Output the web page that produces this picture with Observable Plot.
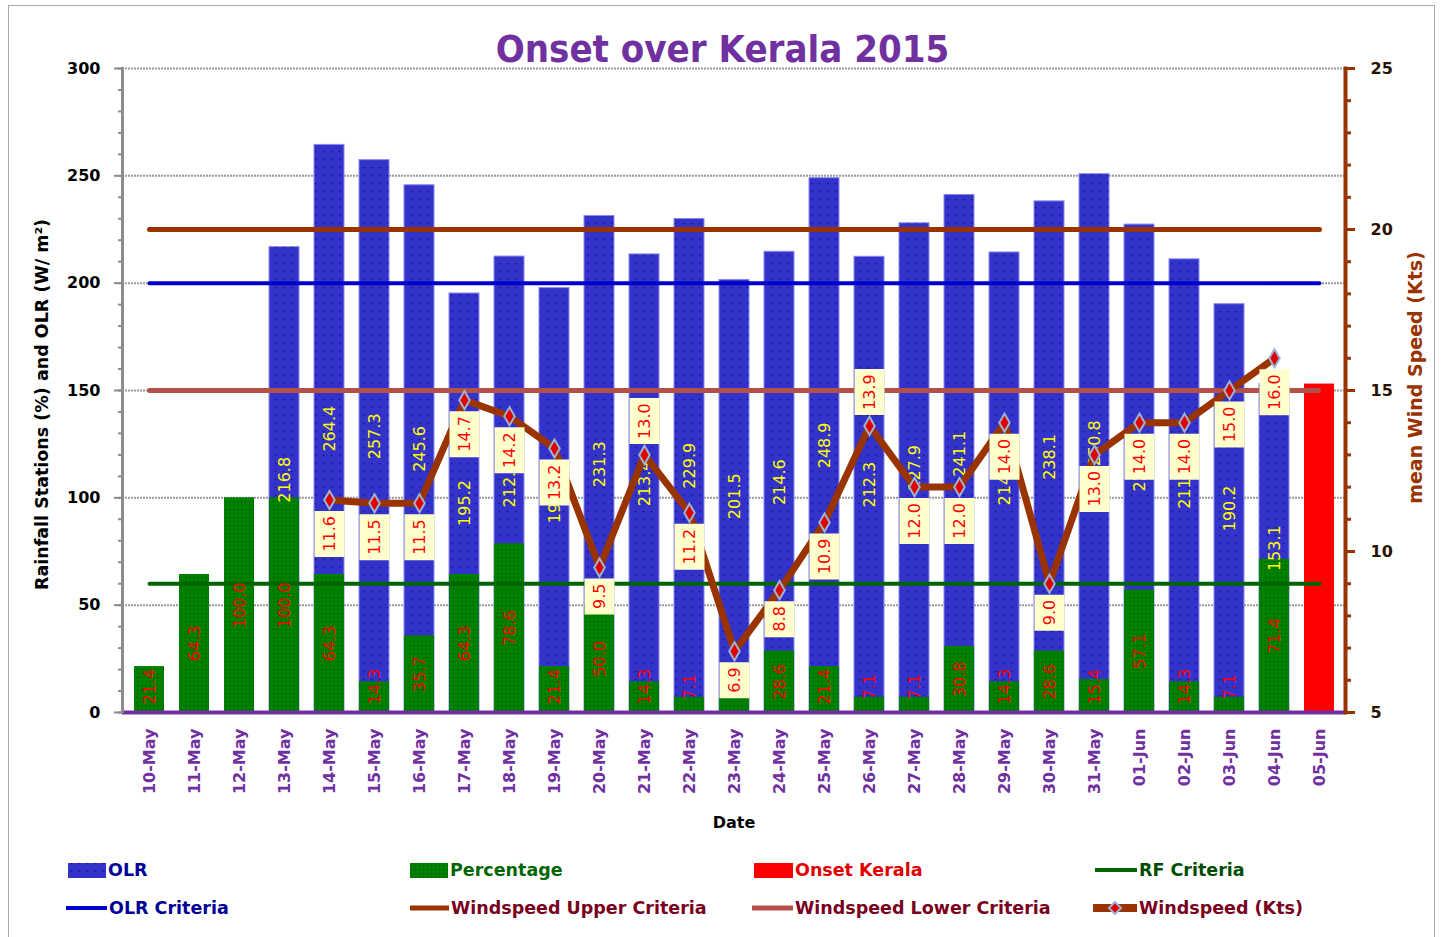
<!DOCTYPE html>
<html><head><meta charset="utf-8">
<script src="https://cdn.jsdelivr.net/npm/d3@7"></script>
<script src="https://cdn.jsdelivr.net/npm/@observablehq/plot@0.6"></script>
<style>
body{margin:0;background:#fff;font-family:"DejaVu Sans",sans-serif;}
#wrap{position:relative;width:1445px;height:937px;overflow:hidden;background:#fff}
#border{position:absolute;left:8px;top:5px;width:1427px;height:960px;border:1px solid #aaa;box-sizing:border-box}
#title{position:absolute;left:0;width:1445px;top:25px;text-align:center;font:bold 38px "DejaVu Sans Condensed","DejaVu Sans",sans-serif;color:#7030A0;line-height:48px}
.layer{position:absolute;left:0;top:60px}
.lg{position:absolute;font:bold 17.5px "DejaVu Sans",sans-serif;white-space:nowrap;line-height:20px;letter-spacing:0px}
.sw{position:absolute}
</style></head>
<body>
<svg width="0" height="0" style="position:absolute">
  <defs>
    <pattern id="dotBlue" width="8" height="8" patternUnits="userSpaceOnUse">
      <rect width="8" height="8" fill="#3333CC"/><rect x="3" y="3" width="1.2" height="1.2" fill="#10104a"/>
    </pattern>
    <pattern id="dotGreen" width="4" height="4" patternUnits="userSpaceOnUse">
      <rect width="4" height="4" fill="#008000"/><rect x="1" y="1" width="1" height="1" fill="#005200"/>
    </pattern>
  </defs>
</svg>
<div id="wrap">
  <div id="border"></div>
  <div id="title">Onset over Kerala 2015</div>
  <div id="l1" class="layer"></div>
  <div id="l2" class="layer"></div>
  <div id="legend"></div>
</div>
<script>
// ---------------- data ----------------
const dates = ["10-May","11-May","12-May","13-May","14-May","15-May","16-May","17-May","18-May","19-May","20-May","21-May","22-May","23-May","24-May","25-May","26-May","27-May","28-May","29-May","30-May","31-May","01-Jun","02-Jun","03-Jun","04-Jun","05-Jun"];
const olr = [null,null,null,216.8,264.4,257.3,245.6,195.2,212.4,197.7,231.3,213.4,229.9,201.5,214.6,248.9,212.3,227.9,241.1,214.3,238.1,250.8,227.3,211.1,190.2,153.1,null];
const percentage = [21.4,64.3,100.0,100.0,64.3,14.3,35.7,64.3,78.6,21.4,50.0,14.3,7.1,7.1,28.6,21.4,7.1,7.1,30.8,14.3,28.6,15.4,57.1,14.3,7.1,71.4,null];
const onsetKerala = [null,null,null,null,null,null,null,null,null,null,null,null,null,null,null,null,null,null,null,null,null,null,null,null,null,null,153];
const windspeed = [null,null,null,null,11.6,11.5,11.5,14.7,14.2,13.2,9.5,13.0,11.2,6.9,8.8,10.9,13.9,12.0,12.0,14.0,9.0,13.0,14.0,14.0,15.0,16.0,null];
const olrCriteria = 200;
const rfCriteria = 60;
const windUpper = 20;
const windLower = 15;
const leftTicks = [0,50,100,150,200,250,300];
const rightTicks = [5,10,15,20,25];

// --------------- tables ---------------
const rows = dates.map((d,i)=>({date:d, olr:olr[i], pct:percentage[i], onset:onsetKerala[i], ws:windspeed[i]}));
const olrRows = rows.filter(r=>r.olr!=null);
const pctRows = rows.filter(r=>r.pct!=null);
const onsetRows = rows.filter(r=>r.onset!=null);
const wsRows = rows.filter(r=>r.ws!=null).map(r=>({...r, label:r.ws.toFixed(1)}));
const aboveSet = new Set(["21-May","26-May"]);

const W = 1445, H = 785;
const common = {
  width: W, height: H, marginTop: 8, marginLeft: 122, marginRight: 100, marginBottom: 133,
  style: {fontFamily: "DejaVu Sans", fontSize: "16px", background: "transparent", overflow: "visible"}
};
const xScale = {type: "band", domain: dates, paddingInner: 0.34, paddingOuter: 0.17};

// ---------------- layer 1 : bars ----------------
const p1 = Plot.plot({
  ...common,
  x: xScale,
  y: {domain: [0, 300]},
  marks: [
    Plot.ruleY(leftTicks.slice(1), {stroke: "#9a9a9a", strokeWidth: 2, strokeDasharray: "2 1"}),
    Plot.barY(olrRows, {x: "date", y: "olr", fill: "url(#dotBlue)", stroke: "#8a8af0", strokeWidth: 1}),
    Plot.barY(pctRows, {x: "date", y: "pct", fill: "url(#dotGreen)"}),
    Plot.barY(onsetRows, {x: "date", y: "onset", fill: "#FF0000"}),
    Plot.lineY(dates.map(d=>({date:d, v:olrCriteria})), {x: "date", y: "v", stroke: "#0000CC", strokeWidth: 4}),
    Plot.lineY(dates.map(d=>({date:d, v:rfCriteria})), {x: "date", y: "v", stroke: "#006400", strokeWidth: 4}),
    Plot.text(olrRows, {x: "date", y: d=>d.olr/2, text: d=>d.olr.toFixed(1), rotate: -90, fill: "#FFFF00", fontSize: 16}),
    Plot.text(pctRows, {x: "date", y: d=>Math.max(d.pct/2, 12), text: d=>d.pct.toFixed(1), rotate: -90, fill: "#FF0000", fontSize: 16}),
    Plot.ruleY([0], {stroke: "#7030A0", strokeWidth: 4}),
    Plot.frame({anchor: "left", stroke: "#8c8c8c", strokeWidth: 3, strokeDasharray: "3 2"}),
    Plot.axisY({ticks: d3.range(0, 301, 10), tickSize: 4, tickFormat: () => "", stroke: "#8c8c8c", strokeWidth: 2, label: null}),
    Plot.axisY({ticks: leftTicks, tickSize: 8, tickPadding: 14, fontWeight: "bold", fontSize: 16, fill: "#000", stroke: "#8c8c8c", strokeWidth: 2, label: null}),
    Plot.axisX({tickRotate: -90, tickSize: 0, tickPadding: 16, fontSize: 16, fontWeight: "bold", fill: "#7030A0", label: null}),
    Plot.text(["Rainfall Stations (%) and OLR (W/ m²)"], {frameAnchor: "left", textAnchor: "middle", rotate: -90, dx: -80, dy: 14, fontWeight: "bold", fontSize: 17.5, fill: "#000"}),
    Plot.text(["Date"], {frameAnchor: "bottom", dy: 115, fontWeight: "bold", fontSize: 16, fill: "#000"})
  ]
});
document.getElementById("l1").appendChild(p1);

// ---------------- layer 2 : windspeed ----------------
function boxSymbol(h, below) {
  return {draw(ctx) {
    const y0 = below ? 11 : -11 - h;
    ctx.moveTo(-15, y0); ctx.lineTo(15, y0); ctx.lineTo(15, y0 + h); ctx.lineTo(-15, y0 + h); ctx.closePath();
  }};
}
const below3 = wsRows.filter(d=>!aboveSet.has(d.date) && d.label.length===3);
const below4 = wsRows.filter(d=>!aboveSet.has(d.date) && d.label.length===4);
const above4 = wsRows.filter(d=>aboveSet.has(d.date));

const p2 = Plot.plot({
  ...common,
  x: {...xScale, axis: null},
  y: {domain: [5, 25]},
  marks: [
    Plot.lineY(dates.map(d=>({date:d, v:windUpper})), {x: "date", y: "v", stroke: "#993300", strokeWidth: 5}),
    Plot.lineY(dates.map(d=>({date:d, v:windLower})), {x: "date", y: "v", stroke: "#B4504A", strokeWidth: 5, strokeDasharray: "2 1"}),
    Plot.line(wsRows, {x: "date", y: "ws", stroke: "#993300", strokeWidth: 7, strokeLinejoin: "round"}),
    Plot.dot(wsRows, {x: "date", y: "ws", symbol: "diamond", r: 5.5, fill: "#E00000", stroke: "#9CB4D4", strokeWidth: 2}),
    Plot.dot(below3, {x: "date", y: "ws", symbol: boxSymbol(36, true), fill: "#FFFFCC"}),
    Plot.dot(below4, {x: "date", y: "ws", symbol: boxSymbol(46, true), fill: "#FFFFCC"}),
    Plot.dot(above4, {x: "date", y: "ws", symbol: boxSymbol(46, false), fill: "#FFFFCC"}),
    Plot.text(wsRows.filter(d=>!aboveSet.has(d.date)), {x: "date", y: "ws", text: "label", rotate: -90, textAnchor: "end", dy: 16, fill: "#FF0000", fontSize: 16}),
    Plot.text(above4, {x: "date", y: "ws", text: "label", rotate: -90, textAnchor: "start", dy: -16, fill: "#FF0000", fontSize: 16}),
    Plot.frame({anchor: "right", stroke: "#993300", strokeWidth: 4}),
    Plot.axisY({anchor: "right", ticks: d3.range(5, 26, 1), tickSize: 5, tickFormat: () => "", stroke: "#993300", strokeWidth: 3, label: null}),
    Plot.axisY({anchor: "right", ticks: rightTicks, tickSize: 9, tickPadding: 16, fontWeight: "bold", fontSize: 16, fill: "#2a1200", stroke: "#993300", strokeWidth: 3, label: null}),
    Plot.text(["mean Wind Speed (Kts)"], {frameAnchor: "right", textAnchor: "middle", rotate: -90, dx: 70, dy: -13, fontWeight: "bold", fontSize: 19, fill: "#993300"})
  ]
});
document.getElementById("l2").appendChild(p2);

// ---------------- legend ----------------
const legendItems = [
  {label: "OLR", kind: "rect", fill: "url(#dotBlue)", x0: 68, x1: 106, y: 870, color: "#000099"},
  {label: "Percentage", kind: "rect", fill: "url(#dotGreen)", x0: 410, x1: 448, y: 870, color: "#006600"},
  {label: "Onset Kerala", kind: "rect", fill: "#FF0000", x0: 754, x1: 793, y: 870, color: "#E00000"},
  {label: "RF Criteria", kind: "line", stroke: "#006400", sw: 4, x0: 1095, x1: 1137, y: 870, color: "#004d00"},
  {label: "OLR Criteria", kind: "line", stroke: "#0000CC", sw: 4, x0: 66, x1: 107, y: 908, color: "#000099"},
  {label: "Windspeed Upper Criteria", kind: "line", stroke: "#993300", sw: 5, x0: 410, x1: 449, y: 908, color: "#7a0020"},
  {label: "Windspeed Lower Criteria", kind: "line", stroke: "#B4504A", sw: 5, x0: 752, x1: 793, y: 908, color: "#7a0020"},
  {label: "Windspeed (Kts)", kind: "wind", stroke: "#993300", sw: 8, x0: 1093, x1: 1137, y: 908, color: "#7a0020"}
];
const lg = document.getElementById("legend");
legendItems.forEach(it => {
  const w = it.x1 - it.x0;
  let inner = "";
  if (it.kind === "rect") inner = `<rect x="0" y="3" width="${w}" height="15" fill="${it.fill}"/>`;
  else if (it.kind === "line") inner = `<line x1="0" x2="${w}" y1="10" y2="10" stroke="${it.stroke}" stroke-width="${it.sw}"/>`;
  else inner = `<line x1="0" x2="${w}" y1="10" y2="10" stroke="${it.stroke}" stroke-width="${it.sw}"/><path d="M${w/2},4L${w/2+6},10L${w/2},16L${w/2-6},10Z" fill="#E00000" stroke="#9CB4D4" stroke-width="2"/>`;
  lg.insertAdjacentHTML("beforeend",
    `<svg class="sw" style="left:${it.x0}px;top:${it.y-10}px" width="${w}" height="20">${inner}</svg>` +
    `<div class="lg" style="left:${it.x1 + 2}px;top:${it.y-10}px;color:${it.color}">${it.label}</div>`);
});
</script>
</body></html>
